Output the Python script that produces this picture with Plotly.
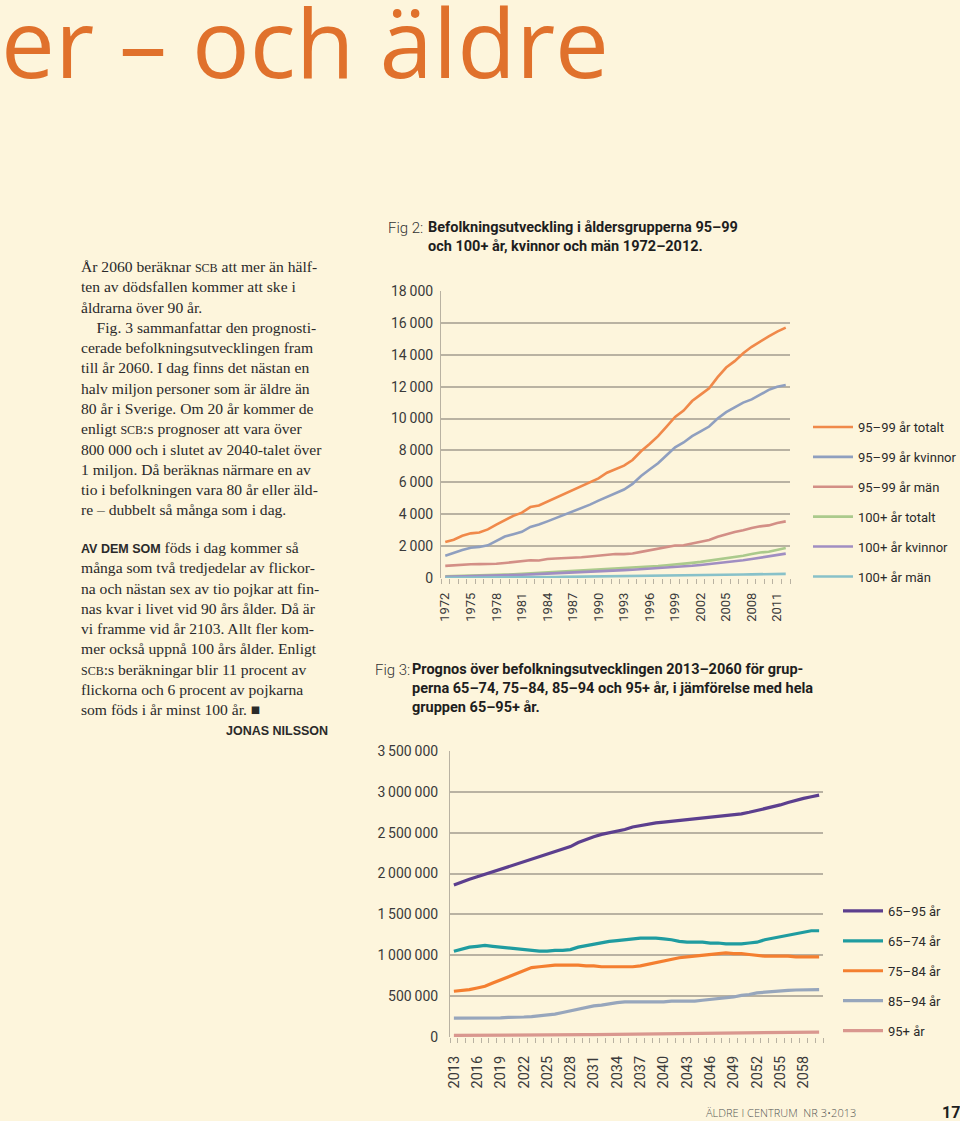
import plotly.graph_objects as go

# ---------------- DATA ----------------
years2 = list(range(1972, 2013))
tot_95_99 = [2250, 2400, 2650, 2800, 2850, 3050, 3350, 3650, 3900, 4100, 4450, 4550, 4800, 5000,
             5300, 5550, 5750, 6000, 6250, 6600, 6850, 7050, 7400, 7950, 8400, 8900, 9500, 10100,
             10500, 11100, 11500, 11900, 12600, 13200, 13600, 14100, 14500, 14850, 15150, 15450, 15700]
kv_95_99 = [1400, 1600, 1750, 1900, 1950, 2050, 2350, 2600, 2750, 2900, 3200, 3350, 3550, 3750,
            3950, 4200, 4400, 4600, 4850, 5100, 5350, 5550, 5900, 6400, 6800, 7200, 7700, 8200,
            8500, 8900, 9200, 9500, 10000, 10400, 10700, 11000, 11200, 11500, 11800, 12000, 12100]
man_95_99 = [760, 800, 840, 860, 870, 870, 890, 940, 990, 1070, 1110, 1100, 1190, 1220,
             1240, 1260, 1300, 1350, 1400, 1480, 1500, 1500, 1540, 1640, 1740, 1840, 1900, 2040,
             2050, 2150, 2250, 2380, 2580, 2740, 2880, 2990, 3140, 3240, 3300, 3450, 3550]
tot_100 = [100, 110, 125, 140, 155, 170, 190, 210, 230, 260, 290, 310, 330, 360,
           390, 420, 450, 480, 520, 550, 580, 610, 640, 680, 710, 750, 800, 840,
           890, 950, 1010, 1080, 1150, 1230, 1300, 1390, 1500, 1600, 1650, 1750, 1880]
kv_100 = [80, 90, 100, 110, 125, 140, 155, 170, 185, 205, 230, 250, 270, 290,
          315, 340, 365, 390, 420, 445, 470, 495, 520, 550, 575, 610, 640, 680,
          720, 770, 820, 870, 930, 990, 1050, 1110, 1190, 1270, 1330, 1420, 1530]
man_100 = [20, 20, 25, 30, 30, 35, 35, 40, 45, 50, 55, 60, 60, 65,
           70, 75, 80, 85, 90, 95, 100, 105, 110, 115, 120, 125, 135, 140,
           150, 160, 170, 180, 190, 200, 210, 220, 230, 240, 250, 290, 260]
names2 = ["95–99 år totalt", "95–99 år kvinnor", "95–99 år män",
          "100+ år totalt", "100+ år kvinnor", "100+ år män"]
xticks2 = list(range(1972, 2012, 3))
yticks2 = list(range(0, 18001, 2000))
yticktext2 = ["0", "2\u2009000", "4\u2009000", "6\u2009000", "8\u2009000", "10\u2009000",
              "12\u2009000", "14\u2009000", "16\u2009000", "18\u2009000"]

years3 = list(range(2013, 2061))
g65_95 = [1.86, 1.90, 1.93, 1.96, 1.99, 2.02, 2.05, 2.08, 2.12, 2.15, 2.18, 2.21, 2.24, 2.27,
          2.30, 2.33, 2.38, 2.42, 2.45, 2.48, 2.50, 2.52, 2.54, 2.57, 2.59, 2.61, 2.62, 2.63,
          2.64, 2.65, 2.66, 2.67, 2.68, 2.69, 2.70, 2.71, 2.72, 2.73, 2.75, 2.77, 2.79, 2.81,
          2.84, 2.87, 2.90, 2.92, 2.94, 2.96]
g65_74 = [1.05, 1.08, 1.10, 1.11, 1.12, 1.11, 1.10, 1.09, 1.08, 1.07, 1.06, 1.05, 1.05, 1.06,
          1.06, 1.07, 1.10, 1.12, 1.14, 1.16, 1.17, 1.18, 1.19, 1.20, 1.21, 1.21, 1.21, 1.20,
          1.19, 1.17, 1.16, 1.16, 1.16, 1.15, 1.15, 1.14, 1.14, 1.14, 1.15, 1.16, 1.19, 1.21,
          1.23, 1.25, 1.27, 1.29, 1.30, 1.30]
g75_84 = [0.56, 0.57, 0.58, 0.60, 0.62, 0.66, 0.70, 0.74, 0.78, 0.82, 0.85, 0.86, 0.87, 0.88,
          0.88, 0.88, 0.88, 0.87, 0.87, 0.86, 0.86, 0.86, 0.86, 0.86, 0.87, 0.89, 0.91, 0.93,
          0.95, 0.97, 0.98, 0.99, 1.00, 1.01, 1.02, 1.03, 1.02, 1.02, 1.01, 1.00, 0.99, 0.99,
          0.99, 0.99, 0.98, 0.98, 0.98, 0.98]
g85_94 = [0.23, 0.23, 0.23, 0.23, 0.23, 0.23, 0.235, 0.24, 0.24, 0.245, 0.25, 0.26, 0.27, 0.28,
          0.30, 0.32, 0.34, 0.36, 0.38, 0.39, 0.41, 0.42, 0.43, 0.43, 0.43, 0.43, 0.43, 0.43,
          0.44, 0.44, 0.44, 0.44, 0.45, 0.46, 0.47, 0.48, 0.49, 0.51, 0.52, 0.54, 0.55, 0.555,
          0.56, 0.57, 0.575, 0.58, 0.58, 0.58]
g95p = [0.020, 0.020, 0.021, 0.021, 0.022, 0.022, 0.023, 0.023, 0.024, 0.024, 0.025, 0.025,
        0.026, 0.026, 0.027, 0.028, 0.028, 0.029, 0.030, 0.031, 0.031, 0.032, 0.033, 0.034,
        0.035, 0.036, 0.037, 0.038, 0.039, 0.040, 0.041, 0.042, 0.043, 0.044, 0.045, 0.046,
        0.047, 0.048, 0.049, 0.050, 0.051, 0.052, 0.053, 0.054, 0.055, 0.056, 0.058, 0.060]
names3 = ["65–95 år", "65–74 år", "75–84 år", "85–94 år", "95+ år"]
xticks3 = list(range(2013, 2060, 3))
yticks3 = [0, 500000, 1000000, 1500000, 2000000, 2500000, 3000000, 3500000]
yticktext3 = ["0", "500\u2009000", "1\u2009000\u2009000", "1\u2009500\u2009000", "2\u2009000\u2009000",
              "2\u2009500\u2009000", "3\u2009000\u2009000", "3\u2009500\u2009000"]

# ---------------- STYLE ----------------
W, H = 960, 1121
BG = "#fdf5dc"
GRID = "#b9b2a2"
COND = "Roboto, Liberation Sans, sans-serif"
SERIF = "Liberation Serif, DejaVu Serif, serif"
colors2 = ["#f0894a", "#8f9fbf", "#d38f86", "#abca8c", "#a08ec2", "#88c1c9"]
colors3 = ["#5c3f8e", "#1f9ca0", "#f47f30", "#97a6bc", "#d9978f"]


def px(x):
    return x / W


def py(y):
    return 1 - y / H


fig = go.Figure()

series2 = [tot_95_99, kv_95_99, man_95_99, tot_100, kv_100, man_100]
for name, vals, c in zip(names2, series2, colors2):
    fig.add_trace(go.Scatter(x=years2, y=vals, name=name, mode="lines",
                             line=dict(color=c, width=2.6), xaxis="x", yaxis="y",
                             legend="legend", legendgroup=name))

series3 = [g65_95, g65_74, g75_84, g85_94, g95p]
for name, vals, c in zip(names3, series3, colors3):
    fig.add_trace(go.Scatter(x=years3, y=[v * 1e6 for v in vals], name=name, mode="lines",
                             line=dict(color=c, width=3.2), xaxis="x2", yaxis="y2",
                             legend="legend2", legendgroup=name))

axis_font = dict(family=COND, size=14, color="#3a3a3a")
xfont2 = dict(family=COND, size=13, color="#3a3a3a")
xfont3 = dict(family=COND, size=14.5, color="#3a3a3a")
legfont = dict(family=COND, size=13, color="#2a2a2a")

fig.update_layout(
    width=W, height=H, autosize=False,
    margin=dict(l=0, r=0, t=0, b=0, pad=0, autoexpand=False),
    paper_bgcolor=BG, plot_bgcolor=BG,
    showlegend=True,
    xaxis=dict(domain=[px(441), px(790)], anchor="y", range=[1971.5, 2012.5], automargin=False,
               tickmode="array", tickvals=xticks2, ticktext=[str(v) for v in xticks2],
               tickangle=-90, tickfont=xfont2, ticks="", ticklen=5, showgrid=False, zeroline=False,
               showline=False, ticklabelstandoff=11,
               minor=dict(ticks="outside", tickmode="linear", tick0=1971.5, dtick=1,
                          ticklen=5, tickcolor=GRID, tickwidth=1, showgrid=False)),
    yaxis=dict(domain=[py(578), py(291)], anchor="x", range=[0, 18000], automargin=False,
               tickmode="array", tickvals=yticks2, ticktext=yticktext2,
               tickfont=axis_font, showgrid=True, gridcolor=GRID, gridwidth=2,
               zeroline=False, showline=True, linecolor=GRID, linewidth=1,
               ticks="", ticklen=0, ticklabelstandoff=4),
    xaxis2=dict(domain=[px(450), px(823)], anchor="y2", range=[2012.5, 2060.5], automargin=False,
                tickmode="array", tickvals=xticks3, ticktext=[str(v) for v in xticks3],
                tickangle=-90, tickfont=xfont3, ticks="", ticklen=5, showgrid=False, zeroline=False,
                showline=False, ticklabelstandoff=15,
                minor=dict(ticks="outside", tickmode="linear", tick0=2012.5, dtick=1,
                           ticklen=5, tickcolor=GRID, tickwidth=1, showgrid=False)),
    yaxis2=dict(domain=[py(1037), py(751)], anchor="x2", range=[0, 3500000], automargin=False,
                tickmode="array", tickvals=yticks3, ticktext=yticktext3,
                tickfont=axis_font, showgrid=True, gridcolor=GRID, gridwidth=2,
                zeroline=False, showline=True, linecolor=GRID, linewidth=1,
                ticks="", ticklen=0, ticklabelstandoff=8),
    legend=dict(x=px(808), y=py(412), xanchor="left", yanchor="top",
                bgcolor="rgba(0,0,0,0)", font=legfont,
                tracegroupgap=10, itemwidth=40, traceorder="grouped"),
    legend2=dict(x=px(838), y=py(896), xanchor="left", yanchor="top",
                 bgcolor="rgba(0,0,0,0)", font=legfont,
                 tracegroupgap=10, itemwidth=40, traceorder="grouped"),
)

ann = []


def text(x, y, s, size, family, color="#222222", xanchor="left", yanchor="top", align="left",
         weight=None):
    f = dict(family=family, size=size, color=color)
    if weight is not None:
        f["weight"] = weight
    ann.append(dict(x=px(x), y=py(y), xref="paper", yref="paper", text=s, showarrow=False,
                    xanchor=xanchor, yanchor=yanchor, align=align, font=f, borderpad=0))


# Big heading
text(0, -26, "er – och äldre", 96, "Open Sans, Roboto, sans-serif", color="#e0712c", weight=400)

# Figure titles
text(387, 218, "Fig 2:", 15, COND, color="#333333", weight=300)
text(427, 218, "<b>Befolkningsutveckling i åldersgrupperna 95–99<br>och 100+ år, kvinnor och män 1972–2012.</b>",
     14.5, COND, color="#1e1e1e")
text(374, 660, "Fig 3:", 15, COND, color="#333333", weight=300)
text(411, 660, "<b>Prognos över befolkningsutvecklingen 2013–2060 för grup-<br>perna 65–74, 75–84, 85–94 och 95+ år, i jämförelse med hela<br>gruppen 65–95+ år.</b>",
     14.5, COND, color="#1e1e1e")

# Body text
sc = '<span style="font-size:12px">SCB</span>'
p1 = ("År 2060 beräknar " + sc + " att mer än hälf-<br>"
      "ten av dödsfallen kommer att ske i<br>"
      "åldrarna över 90 år.<br>"
      "\u2003Fig. 3 sammanfattar den prognosti-<br>"
      "cerade befolkningsutvecklingen fram<br>"
      "till år 2060. I dag finns det nästan en<br>"
      "halv miljon personer som är äldre än<br>"
      "80 år i Sverige. Om 20 år kommer de<br>"
      "enligt " + sc + ":s prognoser att vara över<br>"
      "800 000 och i slutet av 2040-talet över<br>"
      "1 miljon. Då beräknas närmare en av<br>"
      "tio i befolkningen vara 80 år eller äld-<br>"
      "re – dubbelt så många som i dag.")
text(80, 257, p1, 15.6, SERIF, color="#2a2a2a")

p2 = ('<span style="font-family:Liberation Sans, Arial, sans-serif;font-size:12.5px"><b>AV DEM SOM</b></span> föds i dag kommer så<br>'
      "många som två tredjedelar av flickor-<br>"
      "na och nästan sex av tio pojkar att fin-<br>"
      "nas kvar i livet vid 90 års ålder. Då är<br>"
      "vi framme vid år 2103. Allt fler kom-<br>"
      "mer också uppnå 100 års ålder. Enligt<br>"
      + sc + ":s beräkningar blir 11 procent av<br>"
      "flickorna och 6 procent av pojkarna<br>"
      "som föds i år minst 100 år. ■")
text(80, 538, p2, 15.6, SERIF, color="#2a2a2a")
text(329, 731, "<b>JONAS NILSSON</b>", 12.5, "Liberation Sans, Arial, sans-serif", color="#2a2a2a",
     xanchor="right", yanchor="middle")

# Footer
text(781, 1112, "ÄLDRE I CENTRUM  NR 3•2013", 11, "Open Sans, Roboto, sans-serif", color="#555555",
     xanchor="center", yanchor="middle", align="center", weight=300)
text(951, 1112, "<b>17</b>", 16, "Roboto, Liberation Sans, sans-serif", color="#1e1e1e",
     xanchor="center", yanchor="middle", align="center")

fig.update_layout(annotations=ann)

fig.write_html("out.html")
